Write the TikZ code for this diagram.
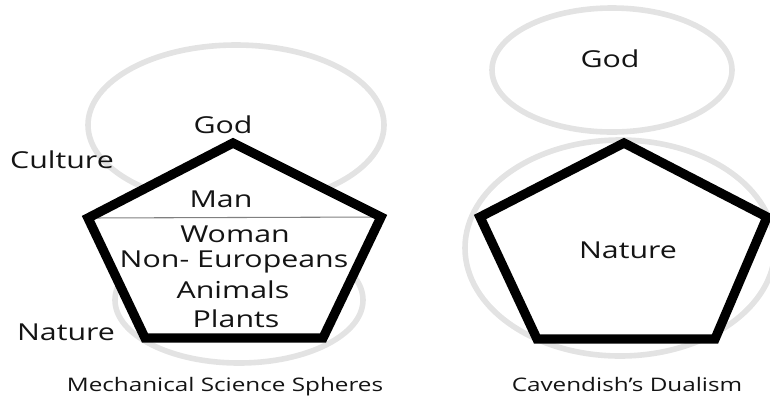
\documentclass[tikz,border=0pt]{standalone}
\usepackage{fontspec}
\setmainfont{Open Sans}[FakeStretch=1.3]
\usetikzlibrary{positioning}

\begin{document}
\begin{tikzpicture}[x=0.75pt,y=-0.75pt,
    sphere/.style={draw=black!11,line width=4.2pt},
    pentline/.style={draw=black,line width=7pt,line join=miter},
    divider/.style={draw=black!50,line width=0.8pt},
    lbl/.style={font=\fontsize{17.5}{20}\selectfont,anchor=base,text=black!92,inner sep=0pt},
    caption/.style={font=\fontsize{14}{17}\selectfont,anchor=base,text=black!92,inner sep=0pt}]
    \useasboundingbox (0,0) rectangle (770,401);
    % spheres
    \draw[sphere] (236,125) ellipse [x radius=148, y radius=80];
    \draw[sphere] (239,300) ellipse [x radius=124, y radius=63];
    \draw[sphere] (612,70) ellipse [x radius=120, y radius=62];
    \draw[sphere] (620,248) ellipse [x radius=155, y radius=108];
    % pentagon corners
    \coordinate (lT) at (233,143);
    \coordinate (lR) at (381,217);
    \coordinate (lBR) at (323,338);
    \coordinate (lBL) at (145,338);
    \coordinate (lL) at (88,218);
    \coordinate (rT) at (624,143);
    \coordinate (rR) at (767,217);
    \coordinate (rBR) at (715,339);
    \coordinate (rBL) at (537,339);
    \coordinate (rL) at (480,217);
    \fill[white] (lT) -- (lR) -- (lBR) -- (lBL) -- (lL) -- cycle;
    \fill[white] (rT) -- (rR) -- (rBR) -- (rBL) -- (rL) -- cycle;
    \draw[divider] (lL) -- (lR);
    \draw[pentline] (lT) -- (lR) -- (lBR) -- (lBL) -- (lL) -- cycle;
    \draw[pentline] (rT) -- (rR) -- (rBR) -- (rBL) -- (rL) -- cycle;
    % labels
    \foreach \name/\x/\y/\txt in {godL/223/133/God, culture/62/168/Culture,
                                  man/221/207/Man, woman/235/242/Woman,
                                  noneuro/234/267/{Non- Europeans},
                                  animals/233/298/Animals, plants/236/327/Plants,
                                  natureL/66/340/Nature, godR/610/67/God,
                                  natureR/628/258/Nature} {
      \node[lbl] (\name) at (\x,\y) {\txt};
    }
    \node[caption] (mech) at (225,391) {Mechanical Science Spheres};
    \node[caption] (dual) at (627,391) {Cavendish’s Dualism};
  \end{tikzpicture}
\end{document}
